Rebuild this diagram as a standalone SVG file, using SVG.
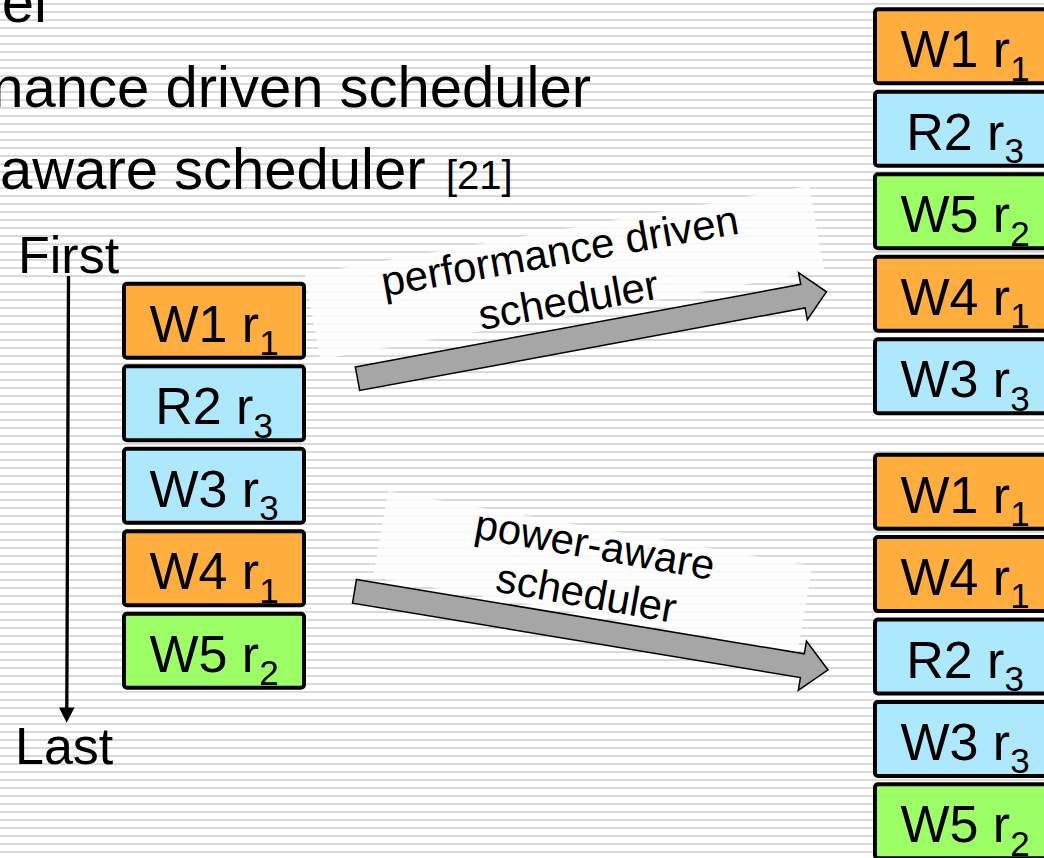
<svg xmlns="http://www.w3.org/2000/svg" width="1044" height="858" viewBox="0 0 1044 858">
  <defs>
    <pattern id="lines" patternUnits="userSpaceOnUse" x="0" y="0" width="1044" height="8">
      <rect x="0" y="3" width="1044" height="2" fill="#dadada"/>
    </pattern>
    <style>
      text { font-family: "Liberation Sans", Arial, sans-serif; fill: #000; }
      .title { font-size: 58px; }
      .ref { font-size: 40px; }
      .axis { font-size: 52px; }
      .lbl { font-size: 42px; text-anchor: middle; }
      .box rect { stroke: #000; stroke-width: 4; }
      .box text { font-size: 52px; text-anchor: middle; }
      .sub { font-size: 35px; }
      .orange rect { fill: #FFAD3D; }
      .blue rect { fill: #AEE8FC; }
      .green rect { fill: #9CFF66; }
      .arrow { fill: #a6a6a6; stroke: #000; stroke-width: 1.5; stroke-linejoin: miter; }
      .halo { fill: #ffffff; fill-opacity: 0.8; }
    </style>
  </defs>

  <!-- lined background -->
  <rect x="0" y="0" width="1044" height="858" fill="#ffffff"/>
  <rect x="0" y="0" width="1044" height="858" fill="url(#lines)"/>

  <!-- bullet text -->
  <g id="heading">
    <text class="title" x="47" y="22" text-anchor="end">el</text>
    <text class="title" x="591" y="106.7" text-anchor="end">nance driven scheduler</text>
    <text class="title" x="0" y="189">aware scheduler</text>
    <text class="ref" x="446" y="189">[21]</text>
  </g>

  <!-- label backgrounds -->
  <rect class="halo" x="-255" y="-60" width="512" height="86" transform="translate(566.6,289.6) rotate(-10)"/>
  <rect class="halo" x="-213" y="-55" width="431" height="87" transform="translate(588.3,582.5) rotate(10)"/>

  <!-- connectors -->
  <g id="connectors">
    <path class="arrow" transform="translate(357.5,378.7) rotate(-10.5)" d="M0,-12 L453,-12 L453,-24 L477,0 L453,24 L453,12 L0,12 Z"/>
    <path class="arrow" transform="translate(354.5,591.3) rotate(9.43)" d="M0,-12 L454,-12 L454,-25 L480,0 L454,25 L454,12 L0,12 Z"/>
    <g id="order-axis">
      <line x1="68.5" y1="276" x2="66.8" y2="710" stroke="#000" stroke-width="3.3"/>
      <polygon points="59,707.5 74.5,707.5 66.7,722.7" fill="#000"/>
    </g>
  </g>

  <!-- connector labels -->
  <g id="label-performance" transform="translate(566.6,289.6) rotate(-10)">
    <text class="lbl" x="0" y="-25">performance driven</text>
    <text class="lbl" x="0" y="25">scheduler</text>
  </g>
  <g id="label-power" transform="translate(588.3,582.5) rotate(10)">
    <text class="lbl" x="0" y="-24">power-aware</text>
    <text class="lbl" x="0" y="25">scheduler</text>
  </g>

  <!-- axis labels -->
  <text class="axis" x="18" y="273.3">First</text>
  <text class="axis" x="15" y="764">Last</text>

  <!-- incoming request queue -->
  <g id="in-W1" class="box orange"><rect x="124" y="283.7" width="180" height="74" rx="3"/><text x="214" y="341.7">W1 r<tspan class="sub" dy="13.3">1</tspan></text></g>
  <g id="in-R2" class="box blue"><rect x="124" y="366.2" width="180" height="74" rx="3"/><text x="214" y="424.2">R2 r<tspan class="sub" dy="13.3">3</tspan></text></g>
  <g id="in-W3" class="box blue"><rect x="124" y="448.7" width="180" height="74" rx="3"/><text x="214" y="506.7">W3 r<tspan class="sub" dy="13.3">3</tspan></text></g>
  <g id="in-W4" class="box orange"><rect x="124" y="531.2" width="180" height="74" rx="3"/><text x="214" y="589.2">W4 r<tspan class="sub" dy="13.3">1</tspan></text></g>
  <g id="in-W5" class="box green"><rect x="124" y="613.7" width="180" height="74" rx="3"/><text x="214" y="671.7">W5 r<tspan class="sub" dy="13.3">2</tspan></text></g>

  <!-- performance driven order -->
  <g id="perf-W1" class="box orange"><rect x="875" y="9.3" width="180" height="74" rx="3"/><text x="965" y="67.3">W1 r<tspan class="sub" dy="13.3">1</tspan></text></g>
  <g id="perf-R2" class="box blue"><rect x="875" y="91.8" width="180" height="74" rx="3"/><text x="965" y="149.8">R2 r<tspan class="sub" dy="13.3">3</tspan></text></g>
  <g id="perf-W5" class="box green"><rect x="875" y="174.3" width="180" height="74" rx="3"/><text x="965" y="232.3">W5 r<tspan class="sub" dy="13.3">2</tspan></text></g>
  <g id="perf-W4" class="box orange"><rect x="875" y="256.8" width="180" height="74" rx="3"/><text x="965" y="314.8">W4 r<tspan class="sub" dy="13.3">1</tspan></text></g>
  <g id="perf-W3" class="box blue"><rect x="875" y="339.3" width="180" height="74" rx="3"/><text x="965" y="397.3">W3 r<tspan class="sub" dy="13.3">3</tspan></text></g>

  <!-- power-aware order -->
  <g id="pow-W1" class="box orange"><rect x="875" y="454.7" width="180" height="74" rx="3"/><text x="965" y="512.7">W1 r<tspan class="sub" dy="13.3">1</tspan></text></g>
  <g id="pow-W4" class="box orange"><rect x="875" y="537.1" width="180" height="74" rx="3"/><text x="965" y="595.1">W4 r<tspan class="sub" dy="13.3">1</tspan></text></g>
  <g id="pow-R2" class="box blue"><rect x="875" y="619.5" width="180" height="74" rx="3"/><text x="965" y="677.5">R2 r<tspan class="sub" dy="13.3">3</tspan></text></g>
  <g id="pow-W3" class="box blue"><rect x="875" y="701.9" width="180" height="74" rx="3"/><text x="965" y="759.9">W3 r<tspan class="sub" dy="13.3">3</tspan></text></g>
  <g id="pow-W5" class="box green"><rect x="875" y="784.3" width="180" height="74" rx="3"/><text x="965" y="842.3">W5 r<tspan class="sub" dy="13.3">2</tspan></text></g>
</svg>
